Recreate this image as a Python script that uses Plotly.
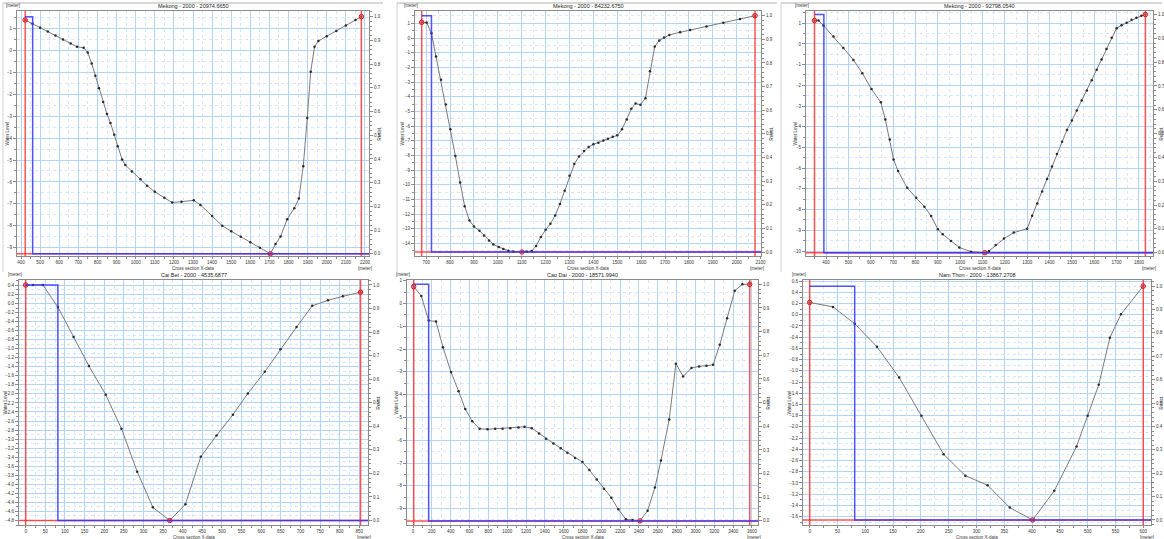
import plotly.graph_objects as go

W, H = 1164, 539

# ---------------- data ----------------
titles = [
    "Mekong - 2000 - 20974.6650",
    "Mekong - 2000 - 84232.6750",
    "Mekong - 2000 - 92798.0540",
    "Cai Bet - 2000 - 4535.6877",
    "Cao Dai - 2000 - 18571.9940",
    "Nam Thon - 2000 - 13867.2708",
]

p1_x = [422, 460, 500, 540, 580, 620, 660, 693, 728, 749, 770, 789, 808, 830, 850, 868, 888, 906, 929, 946,
        980, 1025, 1060, 1100, 1150, 1191, 1240, 1304, 1339, 1400, 1453, 1500, 1550, 1600, 1650, 1705, 1732,
        1758, 1793, 1830, 1854, 1877, 1898, 1916, 1936, 1956, 2000, 2050, 2100, 2150, 2181]
p1_z = [1.39, 1.22, 1.04, 0.86, 0.68, 0.50, 0.32, 0.17, 0.12, -0.09, -0.60, -1.16, -1.72, -2.35, -2.90, -3.31,
        -3.85, -4.37, -4.98, -5.23, -5.52, -5.88, -6.17, -6.45, -6.72, -6.94, -6.90, -6.84, -7.05, -7.55, -8.00,
        -8.25, -8.50, -8.75, -9.00, -9.28, -8.83, -8.49, -7.70, -7.20, -6.76, -5.28, -3.08, -0.97, 0.17, 0.43,
        0.65, 0.89, 1.14, 1.39, 1.54]

p2_x = [681, 702, 722, 741, 762, 782, 801, 822, 842, 861, 881, 900, 923, 942, 963, 981, 1004, 1023, 1044, 1065,
        1101, 1121, 1142, 1160, 1180, 1200, 1220, 1240, 1260, 1280, 1300, 1320, 1340, 1361, 1380, 1400, 1421,
        1442, 1461, 1481, 1500, 1520, 1540, 1559, 1577, 1597, 1618, 1637, 1657, 1676, 1696, 1718, 1763, 1805,
        1874, 1944, 2014, 2077]
p2_z = [1.07, 1.05, 0.32, -1.26, -2.84, -4.53, -6.22, -8.03, -9.84, -11.46, -12.43, -12.84, -13.13, -13.45,
        -13.79, -14.06, -14.24, -14.37, -14.49, -14.55, -14.58, -14.55, -14.51, -14.17, -13.56, -13.06, -12.66,
        -12.09, -11.30, -10.40, -9.38, -8.59, -8.07, -7.69, -7.42, -7.24, -7.13, -6.99, -6.86, -6.72, -6.63,
        -6.22, -5.55, -4.82, -4.46, -4.55, -4.10, -2.27, -0.58, -0.17, 0.03, 0.21, 0.39, 0.54, 0.79, 1.04,
        1.29, 1.52]

p3_x = [348, 366, 388, 433, 477, 522, 562, 603, 645, 665, 685, 702, 722, 763, 803, 840, 870, 900, 922, 959,
        996, 1048, 1110, 1129, 1159, 1196, 1240, 1300, 1322, 1345, 1367, 1389, 1411, 1433, 1456, 1478, 1500,
        1522, 1544, 1567, 1589, 1611, 1633, 1655, 1678, 1700, 1722, 1745, 1767, 1789, 1811, 1829]
p3_z = [1.13, 1.13, 0.89, 0.36, -0.20, -0.77, -1.41, -2.18, -2.82, -3.65, -4.62, -5.58, -6.14, -6.95, -7.43,
        -7.86, -8.31, -8.95, -9.19, -9.51, -9.83, -10.03, -10.08, -10.00, -9.71, -9.40, -9.11, -8.92, -8.30,
        -7.70, -7.12, -6.52, -5.92, -5.32, -4.72, -4.15, -3.70, -3.22, -2.73, -2.25, -1.75, -1.25, -0.75,
        -0.25, 0.30, 0.76, 0.90, 1.02, 1.17, 1.27, 1.36, 1.42]

p4_x = [0, 19, 44, 82, 122, 161, 204, 244, 284, 324, 367, 407, 446, 486, 528, 566, 609, 649, 690, 730, 770,
        808, 853]
p4_z = [0.41, 0.41, 0.41, -0.08, -0.74, -1.38, -2.02, -2.77, -3.72, -4.51, -4.80, -4.44, -3.39, -2.92, -2.46,
        -1.99, -1.51, -1.01, -0.52, -0.05, 0.07, 0.16, 0.25]

p5_x = [7, 88, 166, 244, 318, 403, 484, 555, 629, 707, 792, 873, 951, 1032, 1120, 1184, 1261, 1339, 1413, 1491,
        1569, 1640, 1721, 1799, 1873, 1951, 2028, 2106, 2180, 2261, 2332, 2410, 2491, 2569, 2633, 2721, 2792,
        2869, 2958, 3039, 3117, 3187, 3258, 3336, 3417, 3498, 3576]
p5_z = [0.74, 0.33, -0.75, -0.79, -1.92, -3.01, -3.85, -4.63, -5.17, -5.50, -5.52, -5.50, -5.50, -5.47, -5.44,
        -5.41, -5.47, -5.71, -5.94, -6.14, -6.35, -6.55, -6.78, -6.96, -7.31, -7.72, -8.13, -8.52, -9.03, -9.47,
        -9.50, -9.54, -9.10, -8.08, -6.89, -5.09, -2.64, -3.20, -2.83, -2.76, -2.73, -2.69, -1.81, -0.65, 0.56,
        0.84, 0.84]

p6_x = [0, 42, 81, 121, 161, 201, 241, 280, 320, 360, 401, 440, 480, 500, 520, 540, 560, 600]
p6_z = [0.22, 0.14, -0.16, -0.57, -1.12, -1.80, -2.49, -2.87, -3.04, -3.44, -3.66, -3.14, -2.35, -1.80, -1.25,
        -0.41, 0.01, 0.51]

# x where relative resistance steps from 1.0 to 0.0
resist_break_x = [461, 722, 390, 82, 166, 81]

xs = [p1_x, p2_x, p3_x, p4_x, p5_x, p6_x]
zs = [p1_z, p2_z, p3_z, p4_z, p5_z, p6_z]

# ---------------- layout / style ----------------
boxes = [(17, 369, 11, 256), (415, 761, 11, 256), (806, 1153, 11, 256),
         (19, 368, 280, 525), (407, 758, 280, 525), (803, 1151, 280, 525)]
ytitle_off = [10, 13, 11, 14, 11, 14]
xranges = [[379, 2221], [653, 2102], [310, 1863], [-17, 872], [-64, 3664], [-12, 614]]
yranges = [[-9.38, 1.80], [-14.85, 1.84], [-10.24, 1.59], [-4.90, 0.52], [-9.72, 1.03], [-3.75, 0.62]]
xdt = [100, 100, 100, 50, 200, 50]
ydt = [1, 1, 1, 0.2, 1, 0.2]
yfmt = ["d", "d", "d", ".1f", "d", ".1f"]

FONT = "Liberation Sans, Arial, sans-serif"
TF = 4.5
GRID = "#b4d4f5"
MGRID = "#d6e7f9"
AXC = "#8a8a8a"
RED = "rgba(255,40,40,0.8)"
BLUE = "rgba(50,50,255,0.85)"

fig = go.Figure()
layout = dict(width=W, height=H, margin=dict(l=0, r=0, t=0, b=0, pad=0),
              paper_bgcolor="white", plot_bgcolor="white", showlegend=False,
              font=dict(family=FONT, size=TF, color="#333"))
shapes = []
annots = []


def px(x):
    return x / W


def py(y):
    return 1 - y / H


for i in range(6):
    l, r, t, b = boxes[i]
    n = "" if i == 0 else str(i + 1)
    xid, yid, rid = "x" + n, "y" + n, "y" + str(i + 7)
    x, z = xs[i], zs[i]
    zmin, zmax = min(z), max(z)
    imin = z.index(zmin)
    yr = yranges[i]
    xr = xranges[i]
    rr = [(yr[0] - zmin) / (zmax - zmin), (yr[1] - zmin) / (zmax - zmin)]

    layout["xaxis" + n] = dict(
        domain=[px(l), px(r)], anchor=yid, range=xr, tick0=0, dtick=xdt[i], automargin=False,
        showgrid=True, gridcolor=GRID, gridwidth=1, zeroline=False,
        showline=True, linecolor=AXC, linewidth=1, mirror=True,
        ticks="outside", ticklen=2, tickcolor=AXC, tickfont=dict(size=TF),
        minor=dict(dtick=xdt[i] / 2, showgrid=True, gridcolor=MGRID, griddash="dot",
                   ticks="outside", ticklen=1.5, tickcolor=AXC),
    )
    layout["yaxis" + n] = dict(
        domain=[py(b), py(t)], anchor=xid, range=yr, tick0=0, dtick=ydt[i], tickformat=yfmt[i],
        automargin=False,
        showgrid=True, gridcolor=GRID, gridwidth=1, zeroline=False,
        showline=True, linecolor=AXC, linewidth=1, mirror=True,
        ticks="outside", ticklen=3, tickcolor=AXC, tickfont=dict(size=TF),
        minor=dict(dtick=ydt[i] / 2, showgrid=True, gridcolor=MGRID, griddash="dot",
                   ticks="outside", ticklen=2, tickcolor=AXC),
    )
    layout["yaxis" + str(i + 7)] = dict(
        overlaying=yid, anchor=xid, side="right", range=rr, tick0=0, dtick=0.1, tickformat=".1f",
        automargin=False,
        showgrid=False, zeroline=False, showline=True, linecolor=AXC,
        ticks="outside", ticklen=3, tickcolor=AXC, tickfont=dict(size=TF),
        minor=dict(dtick=0.02, ticks="outside", ticklen=2, tickcolor=AXC),
    )

    # red marker lines (vertical at ends, horizontal at lowest level)
    for xv in (x[0], x[-1]):
        fig.add_trace(go.Scatter(x=[xv, xv], y=yr, mode="lines", xaxis=xid, yaxis=yid,
                                 line=dict(color=RED, width=1.5), hoverinfo="skip"))
    fig.add_trace(go.Scatter(x=xr, y=[zmin, zmin], mode="lines", xaxis=xid, yaxis=yid,
                             line=dict(color=RED, width=1.5), hoverinfo="skip"))

    # cross-section line
    fig.add_trace(go.Scatter(x=x, y=z, mode="lines+markers", xaxis=xid, yaxis=yid,
                             line=dict(color="#7a7a7a", width=1),
                             marker=dict(size=2.5, color="#2a2a2a"), hoverinfo="skip"))
    # relative resistance
    bx = resist_break_x[i]
    fig.add_trace(go.Scatter(x=[x[0], bx, bx, xr[1]], y=[1, 1, 0, 0], mode="lines",
                             xaxis=xid, yaxis=rid, line=dict(color=BLUE, width=1.5), hoverinfo="skip"))
    # markers 1,2,3
    fig.add_trace(go.Scatter(x=[x[0], x[imin], x[-1]], y=[z[0], z[imin], z[-1]], mode="markers",
                             xaxis=xid, yaxis=yid,
                             marker=dict(size=4.5, color="rgba(255,110,110,0.55)",
                                         line=dict(color="rgba(230,0,0,0.9)", width=1)),
                             hoverinfo="skip"))

    cx = (l + r) / 2
    annots += [
        dict(x=px(cx), y=py(t - 5), text=titles[i], font=dict(size=5.5, color="#222")),
        dict(x=px(l - 4), y=py(t - 6), text="[meter]"),
        dict(x=px(r - 4), y=py(b + 12), text="[meter]"),
        dict(x=px(cx), y=py(b + 12), text="Cross section X-data"),
        dict(x=px(l - ytitle_off[i]), y=py((t + b) / 2), text="Water Level", textangle=-90),
        dict(x=px(min(r + 10, W - 3)), y=py((t + b) / 2), text="Resist.", textangle=-90),
    ]

# window frames (top row)
for (a, c) in [(3, 383), (397, 777), (781, 1162)]:
    shapes.append(dict(type="line", xref="paper", yref="paper", x0=px(a), x1=px(c), y0=py(3), y1=py(3),
                       line=dict(color="#b0b0b0", width=1)))
    shapes.append(dict(type="line", xref="paper", yref="paper", x0=px(a), x1=px(a), y0=py(3), y1=py(272),
                       line=dict(color="#d0d0d0", width=1)))

for a in annots:
    a.update(xref="paper", yref="paper", showarrow=False, xanchor="center", yanchor="middle")
    a.setdefault("font", dict(size=TF, color="#333"))

layout["shapes"] = shapes
layout["annotations"] = annots
fig.update_layout(**layout)
fig.write_html("out.html", config={"displayModeBar": False},
               post_script="document.body.style.margin='0';document.body.style.overflow='hidden';")
